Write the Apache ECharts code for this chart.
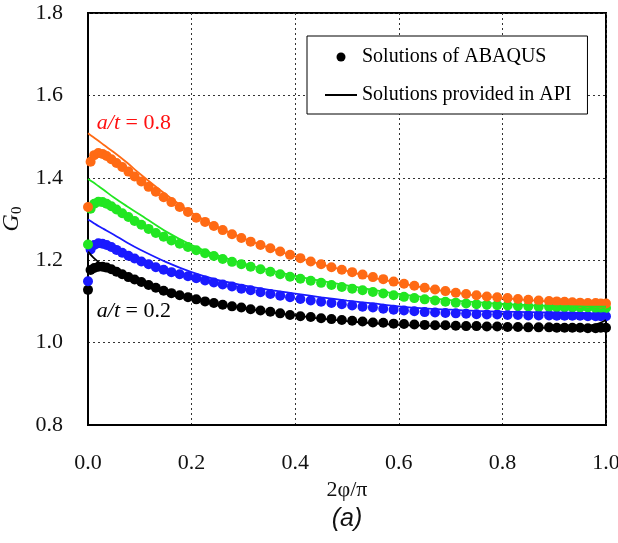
<!DOCTYPE html>
<html>
<head>
<meta charset="utf-8">
<script src="https://cdn.jsdelivr.net/npm/echarts@6/dist/echarts.min.js"></script>
<style>
  html, body { margin: 0; padding: 0; background: #fff; }
  #chart { width: 618px; height: 543px; }
</style>
</head>
<body>
<div id="chart"></div>
<script>
// Normalised crack-front position 2φ/π of the FE nodes
const nodeX = [0, 0.005, 0.012, 0.02, 0.028, 0.036, 0.045, 0.055, 0.066, 0.078,
  0.09, 0.103, 0.117, 0.131, 0.146, 0.161, 0.177, 0.193, 0.209, 0.226,
  0.243, 0.26, 0.278, 0.296, 0.314, 0.333, 0.352, 0.371, 0.39, 0.41,
  0.43, 0.45, 0.47, 0.49, 0.51, 0.53, 0.55, 0.57, 0.59, 0.61,
  0.63, 0.65, 0.67, 0.69, 0.71, 0.73, 0.75, 0.77, 0.79, 0.81,
  0.83, 0.85, 0.87, 0.89, 0.905, 0.92, 0.935, 0.95, 0.965, 0.98, 0.99, 1.0];

// ABAQUS G0 along the crack front, a/t = 0.2, 0.4, 0.6, 0.8
const abaqus02 = [1.128, 1.176, 1.181, 1.184, 1.184, 1.182, 1.178, 1.172, 1.166, 1.159,
  1.153, 1.147, 1.140, 1.133, 1.126, 1.120, 1.115, 1.110, 1.105, 1.100,
  1.096, 1.092, 1.088, 1.085, 1.081, 1.078, 1.075, 1.071, 1.067, 1.064,
  1.062, 1.059, 1.057, 1.055, 1.053, 1.051, 1.049, 1.048, 1.046, 1.045,
  1.044, 1.043, 1.042, 1.042, 1.041, 1.040, 1.040, 1.039, 1.039, 1.038,
  1.038, 1.037, 1.037, 1.037, 1.036, 1.036, 1.036, 1.036, 1.035, 1.035, 1.036, 1.036];
const abaqus04 = [1.149, 1.226, 1.237, 1.241, 1.240, 1.237, 1.232, 1.225, 1.218, 1.211,
  1.204, 1.197, 1.190, 1.183, 1.177, 1.171, 1.166, 1.161, 1.156, 1.151,
  1.146, 1.141, 1.136, 1.131, 1.127, 1.122, 1.118, 1.114, 1.110, 1.106,
  1.102, 1.099, 1.096, 1.093, 1.090, 1.087, 1.085, 1.082, 1.080, 1.078,
  1.076, 1.074, 1.073, 1.072, 1.071, 1.070, 1.069, 1.068, 1.068, 1.067,
  1.067, 1.066, 1.066, 1.066, 1.065, 1.065, 1.065, 1.065, 1.064, 1.064, 1.064, 1.064];
const abaqus06 = [1.238, 1.325, 1.337, 1.342, 1.341, 1.337, 1.331, 1.323, 1.314, 1.305,
  1.295, 1.286, 1.276, 1.266, 1.257, 1.248, 1.240, 1.232, 1.224, 1.217,
  1.210, 1.203, 1.196, 1.190, 1.184, 1.178, 1.172, 1.166, 1.160, 1.155,
  1.150, 1.145, 1.140, 1.135, 1.131, 1.127, 1.123, 1.119, 1.115, 1.111,
  1.108, 1.105, 1.102, 1.099, 1.097, 1.095, 1.093, 1.092, 1.091, 1.090,
  1.089, 1.088, 1.087, 1.087, 1.086, 1.086, 1.085, 1.085, 1.085, 1.084, 1.084, 1.084];
const abaqus08 = [1.329, 1.439, 1.455, 1.460, 1.458, 1.453, 1.445, 1.436, 1.426, 1.415,
  1.403, 1.391, 1.378, 1.366, 1.353, 1.341, 1.329, 1.317, 1.303, 1.293,
  1.283, 1.273, 1.263, 1.254, 1.245, 1.237, 1.229, 1.221, 1.213, 1.205,
  1.197, 1.190, 1.183, 1.177, 1.171, 1.165, 1.159, 1.154, 1.148, 1.143,
  1.138, 1.133, 1.129, 1.125, 1.121, 1.118, 1.115, 1.112, 1.110, 1.108,
  1.106, 1.104, 1.102, 1.101, 1.100, 1.099, 1.098, 1.097, 1.096, 1.096, 1.095, 1.095];

// API closed-form G0 curves
const apiX = [0, 0.01, 0.02, 0.03, 0.05, 0.075, 0.1, 0.15, 0.2, 0.25, 0.3, 0.35, 0.4,
  0.45, 0.5, 0.55, 0.6, 0.65, 0.7, 0.75, 0.8, 0.85, 0.9, 0.95, 0.98, 1.0];
const api02 = [1.221, 1.207, 1.196, 1.187, 1.176, 1.162, 1.148, 1.126, 1.108, 1.094, 1.083, 1.074, 1.066,
  1.058, 1.052, 1.047, 1.043, 1.041, 1.039, 1.038, 1.037, 1.036, 1.036, 1.038, 1.044, 1.055];
const api04 = [1.299, 1.291, 1.283, 1.276, 1.262, 1.243, 1.226, 1.196, 1.171, 1.152, 1.139, 1.128, 1.119,
  1.110, 1.102, 1.095, 1.088, 1.083, 1.080, 1.077, 1.075, 1.074, 1.073, 1.072, 1.071, 1.071];
const api06 = [1.397, 1.389, 1.380, 1.371, 1.352, 1.331, 1.311, 1.270, 1.237, 1.212, 1.192, 1.176, 1.162,
  1.150, 1.139, 1.128, 1.118, 1.110, 1.103, 1.098, 1.094, 1.091, 1.089, 1.088, 1.087, 1.087];
const api08 = [1.508, 1.499, 1.490, 1.480, 1.462, 1.437, 1.410, 1.360, 1.315, 1.281, 1.253, 1.230, 1.209,
  1.190, 1.174, 1.158, 1.145, 1.133, 1.123, 1.114, 1.108, 1.103, 1.099, 1.097, 1.096, 1.095];

const xTicks = [0, 0.2, 0.4, 0.6, 0.8, 1.0];
const yTicks = [0.8, 1.0, 1.2, 1.4, 1.6, 1.8];

// Curve labels, anchored in data coordinates
const curveNotes = [
  { ratio: '0.8', x: 0.017, y: 1.533, color: '#ff1010' },
  { ratio: '0.2', x: 0.017, y: 1.077, color: '#000000' }
];

const colors = ['#000000', '#1a1aff', '#22e622', '#ff6a14'];
const dotSets = [abaqus02, abaqus04, abaqus06, abaqus08];
const lineSets = [api02, api04, api06, api08];

const SERIF = '"Liberation Serif", "Times New Roman", serif';
const DOTS = 'Solutions of ABAQUS';
const API = 'Solutions provided in API';

const pair = (xsArr, ysArr) => xsArr.map((x, i) => [x, ysArr[i]]);

const series = [];
dotSets.forEach((vals, k) => {
  series.push({
    name: DOTS,
    type: 'scatter',
    data: pair(nodeX, vals),
    symbol: 'circle',
    symbolSize: 10,
    itemStyle: { color: colors[k], opacity: 1 },
    z: 2,
    silent: true
  });
});
lineSets.forEach((vals, k) => {
  series.push({
    name: API,
    type: 'line',
    data: pair(apiX, vals),
    symbol: 'none',
    showSymbol: false,
    smooth: 0.3,
    lineStyle: { color: colors[k], width: 1.8 },
    itemStyle: { color: colors[k] },
    z: 3,
    silent: true
  });
});

const chart = echarts.init(document.getElementById('chart'), null, { renderer: 'canvas' });
chart.setOption({
  animation: false,
  backgroundColor: '#fff',
  grid: {
    left: 88, right: 12, top: 13, bottom: 118,
    outerBoundsMode: 'none',
    containLabel: false,
    show: true, borderColor: '#000', borderWidth: 2, backgroundColor: 'transparent'
  },
  legend: {
    data: [
      { name: DOTS, icon: 'circle' },
      { name: API, icon: 'path://M0,0 L32,0 L32,2 L0,2 Z', itemStyle: { color: '#000' } }
    ],
    orient: 'vertical',
    left: 307, top: 36,
    padding: [10, 16, 8, 18],
    itemWidth: 32, itemHeight: 9, itemGap: 16,
    selectedMode: false,
    backgroundColor: '#fff',
    borderColor: '#000', borderWidth: 1,
    textStyle: { fontFamily: SERIF, fontSize: 20, lineHeight: 22, color: '#000' }
  },
  xAxis: {
    type: 'value', min: xTicks[0], max: xTicks[xTicks.length - 1], interval: 0.2,
    name: '2φ/π', nameLocation: 'middle', nameGap: 52,
    nameTextStyle: { fontFamily: SERIF, fontSize: 22, color: '#111' },
    axisLine: { show: true, lineStyle: { color: '#000', width: 2 } },
    axisTick: { show: false },
    axisLabel: { margin: 27, fontFamily: SERIF, fontSize: 22, color: '#111',
      formatter: v => v.toFixed(1) },
    splitLine: { show: true, lineStyle: { color: '#333', width: 1, type: [2, 3] } }
  },
  yAxis: {
    type: 'value', min: yTicks[0], max: yTicks[yTicks.length - 1], interval: 0.2,
    name: '{g|G}{s|0}', nameLocation: 'middle', nameGap: 50, nameRotate: 90,
    nameTextStyle: {
      rich: {
        g: { fontFamily: SERIF, fontStyle: 'italic', fontSize: 24, color: '#111' },
        s: { fontFamily: SERIF, fontSize: 15, color: '#111', verticalAlign: 'bottom', padding: [10, 0, 0, 0] }
      }
    },
    axisLine: { show: true, lineStyle: { color: '#000', width: 2 } },
    axisTick: { show: false },
    axisLabel: { margin: 25, fontFamily: SERIF, fontSize: 22, color: '#111',
      formatter: v => v.toFixed(1) },
    splitLine: { show: true, lineStyle: { color: '#333', width: 1, type: [2, 3] } }
  },
  series: series
});

// Curve annotations and the panel caption, placed through the grid's coordinate system
const noteGraphics = curveNotes.map(n => {
  const p = chart.convertToPixel({ gridIndex: 0 }, [n.x, n.y]);
  return {
    type: 'text',
    x: p[0], y: p[1], z: 10,
    style: {
      text: '{i|a/t} = ' + n.ratio,
      fill: n.color,
      fontFamily: SERIF, fontSize: 22,
      align: 'left', verticalAlign: 'middle',
      rich: { i: { fontStyle: 'italic', fill: n.color, fontFamily: SERIF, fontSize: 22 } }
    }
  };
});
const xMid = chart.convertToPixel({ gridIndex: 0 }, [0.5, 0.8])[0];
noteGraphics.push({
  type: 'text',
  x: xMid, y: 519,
  style: {
    text: '(a)', align: 'center', verticalAlign: 'middle',
    font: 'italic 25px "Liberation Sans", Arial, sans-serif', fill: '#111'
  }
});
chart.setOption({ graphic: noteGraphics });
</script>
</body>
</html>
